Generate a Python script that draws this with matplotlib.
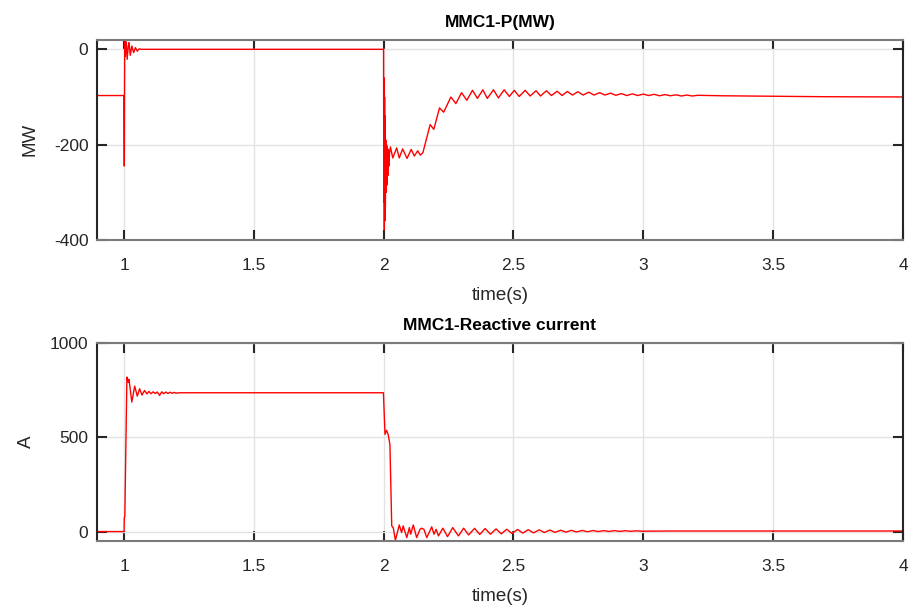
import numpy as np
import matplotlib
matplotlib.use('Agg')
from matplotlib import pyplot as plt
from matplotlib.ticker import FormatStrFormatter

# MMC1 active power (MW)
p_time = [0.900, 0.9995, 1.001, 1.0025, 1.004, 1.0055, 1.007, 1.0085, 1.012, 1.016,
          1.019, 1.024, 1.030, 1.037, 1.044, 1.051, 1.058, 1.066, 1.9995, 2.0005,
          2.0015, 2.0025, 2.0035, 2.0045, 2.0055, 2.0065, 2.008, 2.0095, 2.011, 2.0125,
          2.014, 2.016, 2.018, 2.020, 2.023, 2.026, 2.035, 2.050, 2.060, 2.073,
          2.090, 2.106, 2.118, 2.131, 2.141, 2.151, 2.179, 2.193, 2.215, 2.231,
          2.259, 2.278, 2.300, 2.320, 2.342, 2.361, 2.382, 2.399, 2.423, 2.442,
          2.464, 2.484, 2.503, 2.522, 2.545, 2.564, 2.587, 2.604, 2.627, 2.646,
          2.668, 2.687, 2.707, 2.727, 2.748, 2.768, 2.790, 2.810, 2.832, 2.852,
          2.874, 2.894, 2.916, 2.936, 2.958, 2.978, 3.000, 3.020, 3.042, 3.062,
          3.084, 3.104, 3.126, 3.146, 3.168, 3.188, 3.210, 3.300, 3.500, 3.700,
          4.000]
p_value = [-97, -97, -245, 21, -15, 19, -8, 15, -21, 5,
           14, -12.6, 7, -7, 3.5, -4, 1, 0, 0, -320,
           -60, -379, -100, -360, -140, -330, -190, -300, -200, -285,
           -205, -265, -210, -245, -215, -205, -228, -207, -228, -209,
           -229, -210, -224, -213, -222, -217, -158, -168, -123, -132,
           -100, -114, -91, -107, -86, -103, -85, -103, -85, -102,
           -85, -99, -86, -99, -86, -98, -87, -98, -87, -97,
           -88, -97, -88.5, -96, -89, -96, -90, -96, -91, -96,
           -92, -96.5, -93, -97, -93.5, -97, -94, -97, -94.5, -97.5,
           -95, -97.5, -95.5, -98, -96, -98, -96.5, -97.5, -98.5, -99.5,
           -100]

# MMC1 reactive current (A)
q_time = [0.900, 1.000, 1.001, 1.003, 1.011, 1.016, 1.019, 1.030, 1.041, 1.051,
          1.060, 1.069, 1.079, 1.088, 1.096, 1.104, 1.112, 1.120, 1.128, 1.137,
          1.145, 1.153, 1.161, 1.169, 1.177, 1.185, 1.193, 1.201, 1.215, 1.999,
          2.005, 2.011, 2.017, 2.024, 2.031, 2.037, 2.045, 2.060, 2.069, 2.075,
          2.089, 2.099, 2.104, 2.114, 2.127, 2.140, 2.146, 2.155, 2.166, 2.185,
          2.194, 2.202, 2.211, 2.228, 2.246, 2.266, 2.288, 2.308, 2.327, 2.350,
          2.370, 2.391, 2.411, 2.433, 2.453, 2.474, 2.494, 2.516, 2.536, 2.557,
          2.577, 2.599, 2.619, 2.640, 2.660, 2.682, 2.702, 2.723, 2.743, 2.765,
          2.785, 2.806, 2.826, 2.848, 2.868, 2.889, 2.909, 2.931, 2.951, 2.972,
          2.992, 3.100, 4.000]
q_value = [0, 0, 75, 80, 818, 791, 806, 686, 770, 717,
           756, 723, 747, 729, 742, 730, 740, 731, 739, 721,
           740, 730, 739, 731, 738, 732, 737, 733, 735, 735,
           515, 536, 515, 462, 30, 20, -46, 35, -5, 30,
           -32, 21, -14, 35, -32, 12, 18, 12, -32, 25,
           -14, 12, -23, 18, -27, 21, -23, 18, -18, 17,
           -15, 16, -14, 14, -12, 12, -10, 11, -8, 10,
           -7, 9, -5, 8, -4, 7, -3, 6.5, -2, 6,
           -1, 5.5, 0, 5, 0.5, 5, 1, 4.5, 1.5, 4,
           2, 3, 3]

x_ticks = [1, 1.5, 2, 2.5, 3, 3.5, 4]
p_ticks = [-400, -200, 0]
q_ticks = [0, 500, 1000]

plt.rcParams['font.family'] = ['Liberation Sans', 'DejaVu Sans']
plt.rcParams['axes.unicode_minus'] = False

fig = plt.figure(figsize=(9.13, 6.12), dpi=100)
ax1 = fig.add_axes([0.106, 0.608, 0.883, 0.327])
ax2 = fig.add_axes([0.106, 0.116, 0.883, 0.324])

dark = '#262626'


def style(ax, yticks, ylim, title, ylabel):
  ax.set_xlim(0.895, 4)
  ax.set_ylim(*ylim)
  ax.set_xticks(x_ticks)
  ax.set_yticks(yticks)
  ax.xaxis.set_major_formatter(FormatStrFormatter('%g'))
  ax.grid(True, color='#e3e3e3', linewidth=1)
  ax.set_axisbelow(True)
  ax.tick_params(direction='in', length=7, width=1.5, colors=dark,
                 labelsize=12.5, top=True, right=True)
  ax.tick_params(axis='x', pad=13)
  ax.tick_params(axis='y', pad=6)
  for side in ['left', 'right']:
    ax.spines[side].set_color(dark)
    ax.spines[side].set_linewidth(1.5)
  for side in ['top', 'bottom']:
    ax.spines[side].set_color('#7a7a7a')
    ax.spines[side].set_linewidth(1.5)
  ax.set_title(title, fontsize=12.5, fontweight='bold', color='black', pad=9)
  ax.set_xlabel('time(s)', fontsize=13.5, color=dark, labelpad=10)
  ax.set_ylabel(ylabel, fontsize=13.5, color=dark, labelpad=11)


ax1.plot(p_time, p_value, color='red', linewidth=1)
style(ax1, p_ticks, (-400, 20), 'MMC1-P(MW)', 'MW')

ax2.plot(q_time, q_value, color='red', linewidth=1)
style(ax2, q_ticks, (-50, 1000), 'MMC1-Reactive current', 'A')

fig.savefig('out.png', dpi=100)
